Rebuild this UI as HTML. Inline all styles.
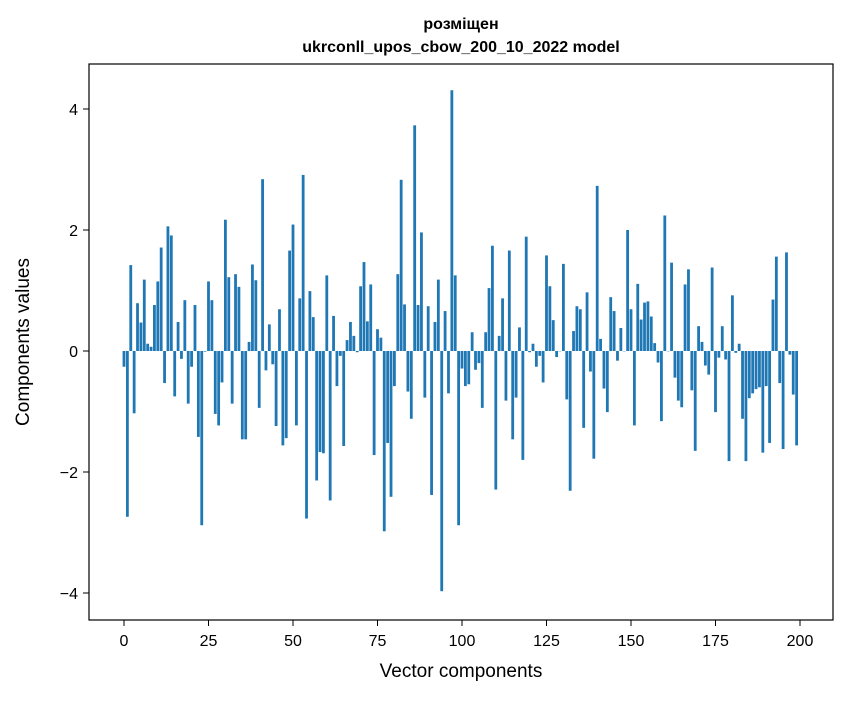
<!DOCTYPE html>
<html><head><meta charset="utf-8"><style>
body{margin:0;background:#fff}
svg{font-family:"Liberation Sans","DejaVu Sans",sans-serif}
</style></head><body>
<svg width="847" height="696" viewBox="0 0 847 696" xmlns="http://www.w3.org/2000/svg">
<rect width="847" height="696" fill="#fff"/>
<text x="461" y="29" text-anchor="middle" font-size="16" font-weight="bold">розміщен</text>
<text x="461" y="52" text-anchor="middle" font-size="16" font-weight="bold">ukrconll_upos_cbow_200_10_2022 model</text>
<g id="bars"></g>
<rect x="89" y="64" width="744" height="556" fill="none" stroke="#000" stroke-width="1.2"/>
<g id="xticks"></g>
<g id="yticks"></g>
<text x="461" y="677" text-anchor="middle" font-size="19">Vector components</text>
<text transform="translate(29,342) rotate(-90)" text-anchor="middle" font-size="19">Components values</text>
</svg>
<script>
const values = [-0.26,-2.74,1.42,-1.03,0.79,0.47,1.18,0.12,0.07,0.76,1.15,1.71,-0.53,2.06,1.91,-0.75,0.48,-0.13,0.84,-0.87,
-0.26,0.76,-1.42,-2.88,-0.01,1.15,0.84,-1.04,-1.23,-0.52,2.17,1.22,-0.87,1.27,1.06,-1.46,-1.46,0.15,1.43,1.17,
-0.94,2.84,-0.32,0.44,-0.22,-1.24,0.69,-1.56,-1.44,1.66,2.09,-1.23,0.87,2.91,-2.77,0.99,0.56,-2.14,-1.67,-1.69,
1.25,-2.47,0.58,-0.58,-0.08,-1.57,0.18,0.48,0.25,-0.02,1.07,1.47,0.49,1.10,-1.72,0.36,0.22,-2.98,-1.52,-2.41,
-0.58,1.27,2.83,0.77,-0.67,-1.12,3.73,0.76,1.96,-0.77,0.74,-2.38,0.48,1.18,-3.97,0.66,-0.70,4.31,1.25,-2.88,
-0.29,-0.58,-0.55,0.31,-0.31,-0.20,-0.94,0.31,1.04,1.74,-2.29,0.25,0.87,-0.82,1.66,-1.46,-0.77,0.39,-1.80,1.89,
-0.02,0.12,-0.26,-0.08,-0.52,1.58,1.07,0.51,-0.10,0.0,1.44,-0.80,-2.31,0.33,0.74,0.69,-1.27,0.97,-0.34,-1.78,
2.73,0.20,-0.62,-1.01,0.89,0.66,-0.16,0.38,0.0,2.00,0.69,-1.23,1.11,0.52,0.80,0.82,0.57,0.13,-0.19,-1.16,
2.24,0.0,1.46,-0.44,-0.82,-0.93,1.10,1.35,-0.65,-1.65,0.41,0.15,-0.24,-0.39,1.38,-1.01,-0.11,0.41,-0.14,-1.82,
0.92,-0.03,0.12,-1.12,-1.82,-0.78,-0.70,-0.63,-0.60,-1.68,-0.58,-1.52,0.85,1.56,-0.53,-1.62,1.63,-0.06,-0.72,-1.56];
const xTicks = [0,25,50,75,100,125,150,175,200];
const yTicks = [-4,-2,0,2,4];
const NS='http://www.w3.org/2000/svg';
const xs = v => 124 + v*3.38;
const ys = v => 351 - v*60.5;
const bars=document.getElementById('bars');
values.forEach((v,i)=>{
  const r=document.createElementNS(NS,'rect');
  const y0=ys(0), y1=ys(v);
  r.setAttribute('x', xs(i)-1.4);
  r.setAttribute('width', 2.8);
  r.setAttribute('y', Math.min(y0,y1));
  r.setAttribute('height', Math.max(Math.abs(y1-y0),0.3));
  r.setAttribute('fill','#1f77b4');
  
  
  bars.appendChild(r);
});
const xg=document.getElementById('xticks');
xTicks.forEach(t=>{
  const l=document.createElementNS(NS,'line');
  l.setAttribute('x1',xs(t));l.setAttribute('x2',xs(t));l.setAttribute('y1',620);l.setAttribute('y2',626);
  l.setAttribute('stroke','#000');
  
  
  xg.appendChild(l);
  const tx=document.createElementNS(NS,'text');
  tx.setAttribute('x',xs(t));tx.setAttribute('y',646);tx.setAttribute('text-anchor','middle');tx.setAttribute('font-size','16');
  tx.textContent=t;
  
  
  xg.appendChild(tx);
});
const yg=document.getElementById('yticks');
yTicks.forEach(t=>{
  const l=document.createElementNS(NS,'line');
  l.setAttribute('x1',83);l.setAttribute('x2',89);l.setAttribute('y1',ys(t));l.setAttribute('y2',ys(t));
  l.setAttribute('stroke','#000');
  
  
  yg.appendChild(l);
  const tx=document.createElementNS(NS,'text');
  tx.setAttribute('x',78);tx.setAttribute('y',ys(t)+6);tx.setAttribute('text-anchor','end');tx.setAttribute('font-size','16');
  tx.textContent=t<0?'\u2212'+Math.abs(t):String(t);
  
  
  yg.appendChild(tx);
});
</script>
</body></html>
